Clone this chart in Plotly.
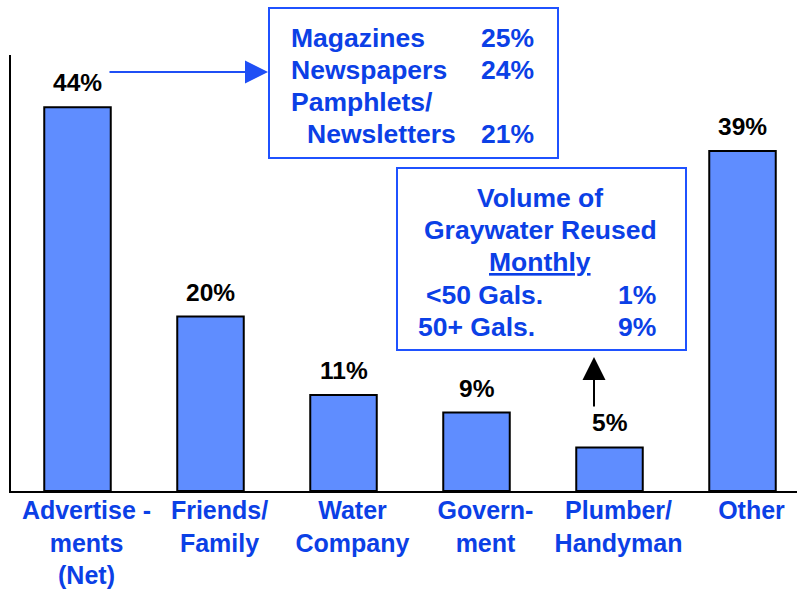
import plotly.graph_objects as go

# Sources of information (percent of respondents)
categories = [
    "Advertise -<br>ments<br>(Net)",
    "Friends/<br>Family",
    "Water<br>Company",
    "Govern-<br>ment",
    "Plumber/<br>Handyman",
    "Other",
]
values = [44, 20, 11, 9, 5, 39]
value_labels = [f"{v}%" for v in values]

# Breakdown of advertisements
ad_names = ["Magazines", "Newspapers", "Pamphlets/", "Newsletters"]
ad_values = ["25%", "24%", "", "21%"]

# Volume of graywater reused monthly
vol_title = ["Volume of", "Graywater Reused", "<u>Monthly</u>"]
vol_names = ["<50 Gals.", "50+ Gals."]
vol_values = ["1%", "9%"]

W, H = 797, 590
L, R, T, B = 11, 0, 55, 99
PW, PH = W - L - R, H - T - B

BAR = "#5F8DFF"
BLUE = "#0B40E6"
BOX = "#1F52FF"
FONT = "Liberation Sans, Arial, sans-serif"


def px(x):
    return (x - L) / PW


def py(y):
    return (H - B - y) / PH


fig = go.Figure(
    go.Bar(
        x=list(range(len(categories))),
        y=values,
        marker=dict(color=BAR, line=dict(color="black", width=2)),
        width=0.5,
        hoverinfo="skip",
    )
)

annotations = []
for i, (v, lab) in enumerate(zip(values, value_labels)):
    annotations.append(dict(
        x=i, y=v, xref="x", yref="y", text=lab, showarrow=False,
        yanchor="bottom", yshift=9,
        font=dict(family=FONT, size=24.5, color="black", weight="bold"),
    ))

blue_font = dict(family=FONT, size=26.5, color=BLUE, weight="bold")

# advertisement breakdown box
ad_rows = [38, 70, 102, 134]
ad_left = [289, 289, 289, 305]
for name, val, yc, xl in zip(ad_names, ad_values, ad_rows, ad_left):
    annotations.append(dict(x=px(xl), y=py(yc), xref="paper", yref="paper",
                            text=name, showarrow=False, xanchor="left",
                            yanchor="middle", font=blue_font))
    if val:
        annotations.append(dict(x=px(536), y=py(yc), xref="paper", yref="paper",
                                text=val, showarrow=False, xanchor="right",
                                yanchor="middle", font=blue_font))

# graywater volume box
for txt, yc in zip(vol_title, [198, 230, 262]):
    annotations.append(dict(x=px(540), y=py(yc), xref="paper", yref="paper",
                            text=txt, showarrow=False, xanchor="center",
                            yanchor="middle", font=blue_font))
for name, val, yc, xl in zip(vol_names, vol_values, [295, 327], [424, 416]):
    annotations.append(dict(x=px(xl), y=py(yc), xref="paper", yref="paper",
                            text=name, showarrow=False, xanchor="left",
                            yanchor="middle", font=blue_font))
    annotations.append(dict(x=px(658), y=py(yc), xref="paper", yref="paper",
                            text=val, showarrow=False, xanchor="right",
                            yanchor="middle", font=blue_font))

# pointer from advertisements to its breakdown
annotations.append(dict(
    x=px(268), y=py(72), ax=-160, ay=0,
    xref="paper", yref="paper", axref="pixel", ayref="pixel",
    text="", showarrow=True, arrowhead=2, arrowsize=2.3, arrowwidth=2,
    arrowcolor="#1F4FF5",
))
# pointer from plumber to graywater volume box
annotations.append(dict(
    x=px(594), y=py(357), ax=0, ay=51,
    xref="paper", yref="paper", axref="pixel", ayref="pixel",
    text="", showarrow=True, arrowhead=2, arrowsize=2.3, arrowwidth=2,
    arrowcolor="black",
))

shapes = [
    dict(type="rect", xref="paper", yref="paper",
         x0=px(269), x1=px(558), y0=py(158), y1=py(8),
         line=dict(color=BOX, width=2), fillcolor="white"),
    dict(type="rect", xref="paper", yref="paper",
         x0=px(397), x1=px(686), y0=py(350), y1=py(168),
         line=dict(color=BOX, width=2), fillcolor="white"),
]

fig.update_layout(
    width=W, height=H,
    margin=dict(l=L, r=R, t=T, b=B, pad=0, autoexpand=False),
    paper_bgcolor="white", plot_bgcolor="white",
    showlegend=False,
    annotations=annotations,
    shapes=shapes,
    xaxis=dict(
        range=[-0.5, -0.5 + PW / 133.0],
        tickmode="array", tickvals=list(range(len(categories))),
        ticktext=categories, ticks="", showgrid=False, zeroline=False,
        showline=True, linecolor="black", linewidth=2,
        ticklabelshift=9, ticklabelstandoff=-4, automargin=False,
        tickfont=dict(family=FONT, size=25, color=BLUE, weight="bold"),
        fixedrange=True,
    ),
    yaxis=dict(
        range=[0, 50], showticklabels=False, ticks="", showgrid=False,
        zeroline=False, showline=True, linecolor="black", linewidth=2,
        automargin=False, fixedrange=True,
    ),
)

fig.write_html("out.html")
